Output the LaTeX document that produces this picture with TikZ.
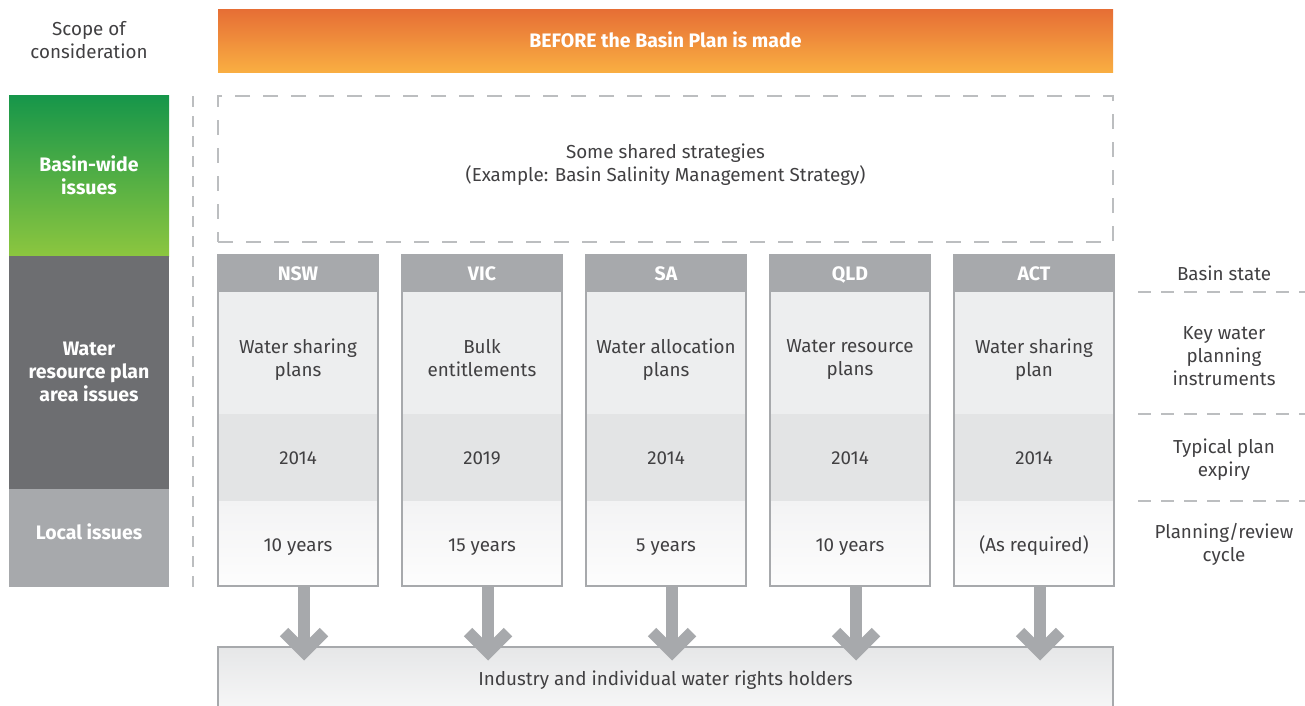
\documentclass[tikz,border=0pt]{standalone}
\usepackage{fontspec}
\setmainfont{Fira Sans}
\usetikzlibrary{calc}
\definecolor{txt}{HTML}{414042}
\definecolor{gry}{HTML}{A7A9AC}
\definecolor{dgry}{HTML}{6D6E71}
\definecolor{dashgray}{HTML}{BCBEC0}
\definecolor{or1}{HTML}{E66E35}
\definecolor{or2}{HTML}{F9AE42}
\definecolor{gr1}{HTML}{16964A}
\definecolor{gr2}{HTML}{8CC63F}
\definecolor{keyc}{HTML}{EDEEEF}
\definecolor{expc}{HTML}{E3E4E5}
\definecolor{cyc1}{HTML}{F3F3F4}
\definecolor{cyc2}{HTML}{FDFDFD}
\definecolor{hold1}{HTML}{E6E7E8}
\definecolor{hold2}{HTML}{FBFBFB}
\tikzset{
  lbl/.style={inner sep=0pt, outer sep=0pt, text=txt, align=center, font=\fontsize{18.8}{23}\selectfont,
    execute at begin node=\strut, execute at end node=\strut},
  wlbl/.style={lbl, text=white, font=\fontsize{19.5}{23}\selectfont\bfseries},
  cell/.style={inner sep=0pt, outer sep=0pt, anchor=north west, minimum width=160pt, draw=none},
  dashline/.style={draw=dashgray, line width=2pt, dash pattern=on 13pt off 10pt},
  shaft/.style={draw=gry, line width=12pt},
  chev/.style={draw=gry, line width=12pt, miter limit=4, line join=miter},
  colborder/.style={draw=gry, line width=2pt}
}
\begin{document}
\begin{tikzpicture}[x=1pt,y=-1pt]
\useasboundingbox (0,0) rectangle (1305,705);
\clip (0,0) rectangle (1305,705);

% left scope labels
\node[lbl] (scope) at (89,43) {Scope of\\consideration};
\node[cell, minimum height=161pt, top color=gr1, bottom color=gr2] (bw) at (9,95) {};
\node[wlbl] (bwt) at (89,179) {Basin-wide\\issues};
\node[cell, minimum height=233pt, fill=dgry] (wr) at (9,256) {};
\node[wlbl] (wrt) at (89,375) {Water\\resource plan\\area issues};
\node[cell, minimum height=98pt, fill=gry] (li) at (9,489) {};
\node[wlbl] (lit) at (89,535) {Local issues};

% top bar
\node[cell, minimum width=895pt, minimum height=63pt, top color=or1, bottom color=or2] (before) at (218,9) {};
\node[wlbl] (beforet) at ($(before.center)+(0,2)$) {BEFORE the Basin Plan is made};

% vertical dashed divider
\draw[dashline, dash pattern=on 11pt off 9pt] (193,96) -- (193,587);

% shared strategies box
\node[cell, minimum width=895pt, minimum height=146pt, dashline, dash pattern=on 15pt off 13pt] (shared) at (218,96) {};
\node[lbl] (sharedt) at (665.5,166) {Some shared strategies\\(Example: Basin Salinity Management Strategy)};

% bottom box
\node[cell, minimum width=895pt, minimum height=80pt, top color=hold1, bottom color=hold2, draw=gry, line width=2pt] (hold) at (218,647) {};
\node[lbl] (holdt) at (665.5,681) {Industry and individual water rights holders};

% columns
\foreach \i/\st/\key/\exp/\cyc in {0/NSW/{Water sharing\\plans}/2014/10 years,
  1/VIC/{Bulk\\entitlements}/2019/15 years,
  2/SA/{Water allocation\\plans}/2014/5 years,
  3/QLD/{Water resource\\plans}/2014/10 years,
  4/ACT/{Water sharing\\plan}/2014/(As required)}{
  \pgfmathsetmacro{\xx}{218+184*\i}
  \node[cell, minimum height=37pt, fill=gry] (hd\i) at (\xx,255) {};
  \node[wlbl] (hdt\i) at ($(hd\i.center)+(0,2)$) {\st};
  \node[cell, minimum height=122pt, fill=keyc] (key\i) at (\xx,292) {};
  \node[lbl] (keyt\i) at ($(key\i.center)+(0,8)$) {\key};
  \node[cell, minimum height=87pt, fill=expc] (ex\i) at (\xx,414) {};
  \node[lbl] (ext\i) at ($(ex\i.center)+(0,2)$) {\exp};
  \node[cell, minimum height=85pt, top color=cyc1, bottom color=cyc2] (cy\i) at (\xx,501) {};
  \node[lbl] (cyt\i) at ($(cy\i.center)+(0,3)$) {\cyc};
  \draw[colborder] (hd\i.north west) rectangle (cy\i.south east);
}
\foreach \i in {0,...,4}{
  \draw[shaft] ($(cy\i.south)+(6,0)$) -- ($(cy\i.south |- hold.north)+(6,5)$);
  \draw[chev] ($(cy\i.south |- hold.north)+(-14,-15)$) -- ($(cy\i.south |- hold.north)+(6,5)$) -- ($(cy\i.south |- hold.north)+(26,-15)$);
}

% right labels
\node[lbl] (rs) at (1224,276) {Basin state};
\node[lbl] (rk) at (1224,359) {Key water\\planning\\instruments};
\node[lbl] (re) at (1224,461) {Typical plan\\expiry};
\node[lbl] (rc) at (1224,545.5) {Planning/review\\cycle};
\draw[dashline] (1138,292) -- (1305,292);
\draw[dashline] (1138,414) -- (1305,414);
\draw[dashline] (1138,501) -- (1305,501);
\end{tikzpicture}
\end{document}
